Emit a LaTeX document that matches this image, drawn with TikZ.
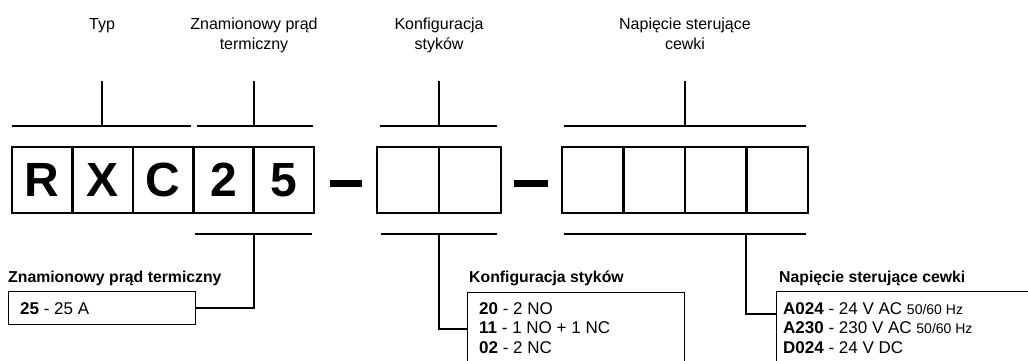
\documentclass[tikz,border=0pt]{standalone}
\usepackage{fontspec}
\setmainfont{Liberation Sans}
\newcommand{\hzsize}{\fontsize{14}{14}\selectfont}
\begin{document}
\begin{tikzpicture}[x=1pt, y=-1pt, line cap=butt,
	cell/.style={draw, line width=2.6pt, minimum width=60.4pt, minimum height=66pt, inner sep=0pt, font=\fontsize{48}{48}\selectfont\bfseries},
	hyphen/.style={line width=7pt},
	bracket/.style={line width=1.8pt},
	tick/.style={line width=1.4pt},
	link/.style={line width=1.2pt},
	infobox/.style={draw, line width=1pt, inner sep=0pt, anchor=north west},
	caption/.style={font=\fontsize{16}{19.5}\selectfont, align=center, inner sep=0pt, anchor=north},
	boxtitle/.style={font=\fontsize{15.8}{15.8}\selectfont\bfseries, inner sep=0pt, anchor=base west},
	boxtext/.style={font=\fontsize{17}{19.5}\selectfont, align=left, inner sep=0pt, anchor=north west}]
	\useasboundingbox (0,0) rectangle (1028,361);
	% code cells
	\node[cell] (c1) at (42.2,180) {R};
	\node[cell] (c2) at (102.6,180) {X};
	\node[cell] (c3) at (163,180) {C};
	\node[cell] (c4) at (223.4,180) {2};
	\node[cell] (c5) at (283.8,180) {5};
	\node[cell, minimum width=62pt] (k1) at (408,180) {};
	\node[cell, minimum width=62pt] (k2) at (470,180) {};
	\node[cell, minimum width=61.5pt] (n1) at (592.75,180) {};
	\node[cell, minimum width=61.5pt] (n2) at (654.25,180) {};
	\node[cell, minimum width=61.5pt] (n3) at (715.75,180) {};
	\node[cell, minimum width=61.5pt] (n4) at (777.25,180) {};
	\draw[hyphen] (330,183.5) -- (362,183.5);
	\draw[hyphen] (514,183.5) -- (548,183.5);
	% upper brackets
	\coordinate (typ) at (102,126);
	\coordinate (znam) at (254,126);
	\coordinate (konf) at (439,126);
	\coordinate (nap) at (685,126);
	\draw[bracket] (12,126) -- (191,126);
	\draw[bracket] (197,126) -- (313,126);
	\draw[bracket] (380,126) -- (497,126);
	\draw[bracket] (564,126) -- (806,126);
	\draw[tick] (typ) -- ++(0,-45);
	\draw[tick] (znam) -- ++(0,-45);
	\draw[tick] (konf) -- ++(0,-45);
	\draw[tick] (nap) -- ++(0,-45);
	\node[caption] (typ label) at (102,18) {Typ};
	\node[caption] (znam label) at (254,18) {Znamionowy prąd\\termiczny};
	\node[caption] (konf label) at (439,18) {Konfiguracja\\styków};
	\node[caption] (nap label) at (685,18) {Napięcie sterujące\\cewki};
	% lower brackets
	\coordinate (znam low) at (254,234);
	\coordinate (konf low) at (439,234);
	\coordinate (nap low) at (746,234);
	\draw[bracket] (195,234) -- (312,234);
	\draw[bracket] (381,234) -- (497,234);
	\draw[bracket] (564,234) -- (806,234);
	% option boxes
	\node[infobox, minimum width=187pt, minimum height=33pt] (znam box) at (8,291) {};
	\node[infobox, minimum width=217pt, minimum height=90pt] (konf box) at (467,292) {};
	\node[infobox, minimum width=270pt, minimum height=90pt] (nap box) at (776,291) {};
	\coordinate (konf in) at (467,329);
	\coordinate (nap in) at (776,314);
	\draw[link] (znam low) |- (znam box.east);
	\draw[link] (konf low) |- (konf in);
	\draw[link] (nap low) |- (nap in);
	\node[boxtitle] (znam title) at (8,282) {Znamionowy prąd termiczny};
	\node[boxtitle] (konf title) at (469,282) {Konfiguracja styków};
	\node[boxtitle] (nap title) at (779,282) {Napięcie sterujące cewki};
	\node[boxtext] (znam text) at (20,302) {\textbf{25} - 25 A};
	\node[boxtext] (konf text) at (479,302) {\textbf{20} - 2 NO\\\textbf{11} - 1 NO + 1 NC\\\textbf{02} - 2 NC};
	\node[boxtext] (nap text) at (783,302) {\textbf{A024} - 24 V AC {\hzsize 50/60 Hz}\\\textbf{A230} - 230 V AC {\hzsize 50/60 Hz}\\\textbf{D024} - 24 V DC};
\end{tikzpicture}
\end{document}
